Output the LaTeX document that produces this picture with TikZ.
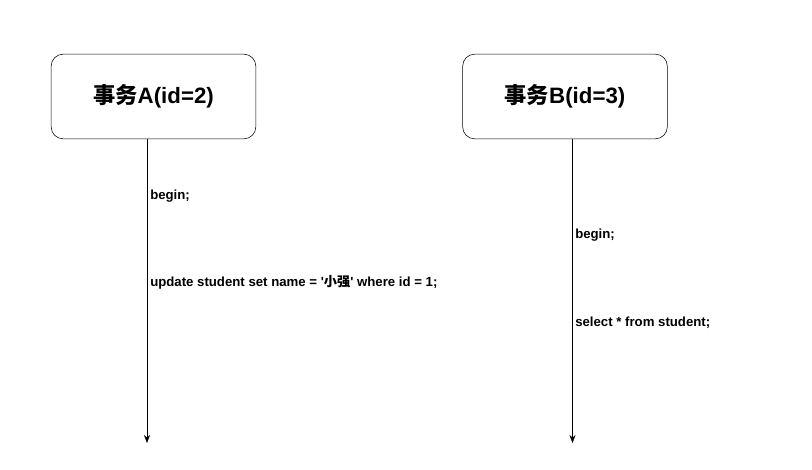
\documentclass[tikz,border=0pt]{standalone}
\usepackage{fontspec}
\setmainfont{Liberation Sans}
\newfontfamily\cjk{Noto Sans CJK SC}
\usetikzlibrary{arrows.meta}
\begin{document}
\begin{tikzpicture}[x=0.75pt,y=-0.75pt,>={Stealth[length=6pt,width=4.5pt]},
    caja/.style={draw,rounded corners=9pt,minimum width=153.5pt,minimum height=63.5pt,font=\fontsize{16.7}{20}\selectfont\bfseries},
    paso/.style={anchor=west,inner sep=0pt,font=\fontsize{9.9}{12}\selectfont\bfseries}]
    \useasboundingbox (0,0) rectangle (812,469);
    % Cajas
    \node[caja] (tA) at (153.5,96.5) {{\cjk 事务}A(id=2)};
    \node[caja] (tB) at (565,96.5) {{\cjk 事务}B(id=3)};

    % Ejes de tiempo
    \coordinate (finA) at (147,443);
    \coordinate (finB) at (572.5,443);
    \draw[->] (tA.south -| finA) -- (finA);
    \draw[->] (tB.south -| finB) -- (finB);

    % Sentencias
    \node[paso] (a1) at (150,196.5) {begin;};
    \node[paso] (a2) at (150,282.5) {update student set name = \textquotesingle{\cjk 小强}\textquotesingle{} where id = 1;};
    \node[paso] (b1) at (575,235.5) {begin;};
    \node[paso] (b2) at (575,322.5) {select * from student;};
\end{tikzpicture}
\end{document}
